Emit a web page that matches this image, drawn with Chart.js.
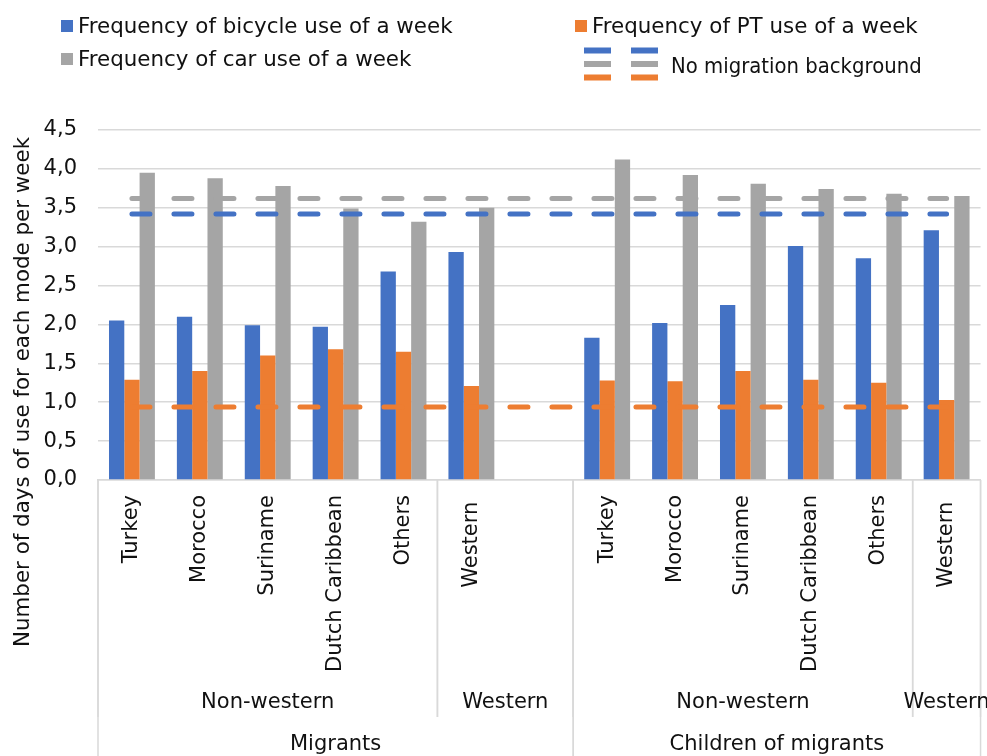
<!DOCTYPE html>
<html>
<head>
<meta charset="utf-8">
<title>Frequency of mode use per week</title>
<script src="https://cdn.jsdelivr.net/npm/chart.js@4/dist/chart.umd.min.js"></script>
<style>
  html, body { margin: 0; padding: 0; background: #ffffff; }
  #wrap { width: 987px; height: 756px; }
</style>
</head>
<body>
<div id="wrap"><canvas id="chart" width="987" height="756"></canvas></div>
<script>
// Categories (one empty slot closes the migrants' "Western" group)
const categories = ['Turkey', 'Morocco', 'Suriname', 'Dutch Caribbean', 'Others', 'Western ', '',
                    'Turkey', 'Morocco', 'Suriname', 'Dutch Caribbean', 'Others', 'Western '];

// Second and third level of the category axis: [label, first slot, last slot]
const originGroups = [['Non-western', 0, 4], ['Western', 5, 6], ['Non-western', 7, 11], ['Western', 12, 12]];
const generationGroups = [['Migrants', 0, 6], ['Children of migrants', 7, 12]];

// Days per week
const bicycleUse = [2.05, 2.10, 1.99, 1.97, 2.68, 2.93, null, 1.83, 2.02, 2.25, 3.01, 2.85, 3.21];
const ptUse      = [1.29, 1.40, 1.60, 1.68, 1.65, 1.21, null, 1.28, 1.27, 1.40, 1.29, 1.25, 1.03];
const carUse     = [3.95, 3.88, 3.78, 3.49, 3.32, 3.50, null, 4.12, 3.92, 3.81, 3.74, 3.68, 3.65];

// Reference levels for people with no migration background
const noMigrationBicycle = 3.42;
const noMigrationCar = 3.62;
const noMigrationPT = 0.94;

const yTicks = [0, 0.5, 1, 1.5, 2, 2.5, 3, 3.5, 4, 4.5];

const BLUE = '#4472C4', ORANGE = '#ED7D31', GRAY = '#A5A5A5';
const TEXT = '#111111', RULE = '#D9D9D9';
const FONT = 'DejaVu Sans';

const flat = v => categories.map(() => v);

function dashed(label, value, color) {
  return {
    type: 'line', label, data: flat(value), order: 0,
    borderColor: color, backgroundColor: color, borderWidth: 5,
    borderDash: [18, 24], borderCapStyle: 'round',
    pointRadius: 0, pointHoverRadius: 0, tension: 0, fill: false
  };
}

// Legend, category groups and axis title
const decorations = {
  id: 'decorations',
  afterDraw(chart) {
    const ctx = chart.ctx;
    const x = chart.scales.x;
    const area = chart.chartArea;
    const step = x.getPixelForValue(1) - x.getPixelForValue(0);
    const left = i => x.getPixelForValue(i) - step / 2;
    const right = i => x.getPixelForValue(i) + step / 2;

    ctx.save();
    ctx.font = '21px "' + FONT + '"';
    ctx.fillStyle = TEXT;
    ctx.textBaseline = 'middle';

    // separators of the grouped axis
    ctx.strokeStyle = RULE;
    ctx.lineWidth = 1.5;
    originGroups.forEach(g => {
      [left(g[1]), right(g[2])].forEach(px => {
        ctx.beginPath(); ctx.moveTo(px, area.bottom); ctx.lineTo(px, 717); ctx.stroke();
      });
    });
    generationGroups.forEach(g => {
      [left(g[1]), right(g[2])].forEach(px => {
        ctx.beginPath(); ctx.moveTo(px, area.bottom); ctx.lineTo(px, chart.height); ctx.stroke();
      });
    });

    ctx.textAlign = 'center';
    originGroups.forEach(g => ctx.fillText(g[0], (left(g[1]) + right(g[2])) / 2, 703));
    generationGroups.forEach(g => ctx.fillText(g[0], (left(g[1]) + right(g[2])) / 2, 745));

    // y axis title
    ctx.font = '21.4px "' + FONT + '"';
    ctx.save();
    ctx.translate(23, 392);
    ctx.rotate(-Math.PI / 2);
    ctx.fillText('Number of days of use for each mode per week', 0, 0);
    ctx.restore();

    // legend
    const ds = chart.data.datasets;
    ctx.textAlign = 'left';
    const swatch = (d, sx, sy, tx, ty) => {
      ctx.fillStyle = d.backgroundColor;
      ctx.fillRect(sx, sy, 12, 12);
      ctx.fillStyle = TEXT;
      ctx.fillText(d.label, tx, ty);
    };
    swatch(ds[0], 61, 20, 78, 27);
    swatch(ds[1], 575, 20, 592, 27);
    swatch(ds[2], 61, 53, 78, 60);

    [[ds[3], 50.5], [ds[4], 64], [ds[5], 77.5]].forEach(([d, yy]) => {
      ctx.fillStyle = d.borderColor;
      ctx.fillRect(584, yy - 3, 27, 6);
      ctx.fillRect(631, yy - 3, 27, 6);
    });
    // the reference-line caption is set a little narrower
    ctx.fillStyle = TEXT;
    ctx.save();
    ctx.translate(671, 67);
    ctx.scale(0.92, 1);
    ctx.fillText('No migration background', 0, 0);
    ctx.restore();
    ctx.restore();
  }
};

new Chart(document.getElementById('chart'), {
  type: 'bar',
  data: {
    labels: categories,
    datasets: [
      { label: 'Frequency of bicycle use of a week', data: bicycleUse, backgroundColor: BLUE, order: 1 },
      { label: 'Frequency of PT use of a week', data: ptUse, backgroundColor: ORANGE, order: 1 },
      { label: 'Frequency of car use of a week', data: carUse, backgroundColor: GRAY, order: 1 },
      dashed('No migration background (bicycle)', noMigrationBicycle, BLUE),
      dashed('No migration background (car)', noMigrationCar, GRAY),
      dashed('No migration background (PT)', noMigrationPT, ORANGE)
    ]
  },
  options: {
    responsive: false,
    animation: false,
    devicePixelRatio: 1,
    datasets: { bar: { categoryPercentage: 0.676, barPercentage: 1.0 } },
    layout: { padding: { top: 130, right: 5, bottom: 0, left: 0 } },
    plugins: { legend: { display: false }, tooltip: { enabled: false }, title: { display: false } },
    scales: {
      x: {
        grid: { display: false, drawTicks: false },
        border: { display: true, color: RULE, width: 1.5 },
        ticks: {
          autoSkip: false, minRotation: 90, maxRotation: 90, padding: 15,
          color: TEXT, font: { family: FONT, size: 21 }
        },
        afterFit(scale) { scale.height = 276; }
      },
      y: {
        min: 0, max: 4.5,
        afterBuildTicks(scale) { scale.ticks = yTicks.map(v => ({ value: v })); },
        grid: { color: RULE, lineWidth: 1.5, drawTicks: false },
        border: { display: false },
        ticks: {
          padding: 21, color: TEXT, font: { family: FONT, size: 21 },
          callback: v => v.toFixed(1).replace('.', ',')
        },
        afterFit(scale) { scale.width = 98; }
      }
    }
  },
  plugins: [decorations]
});
</script>
</body>
</html>
